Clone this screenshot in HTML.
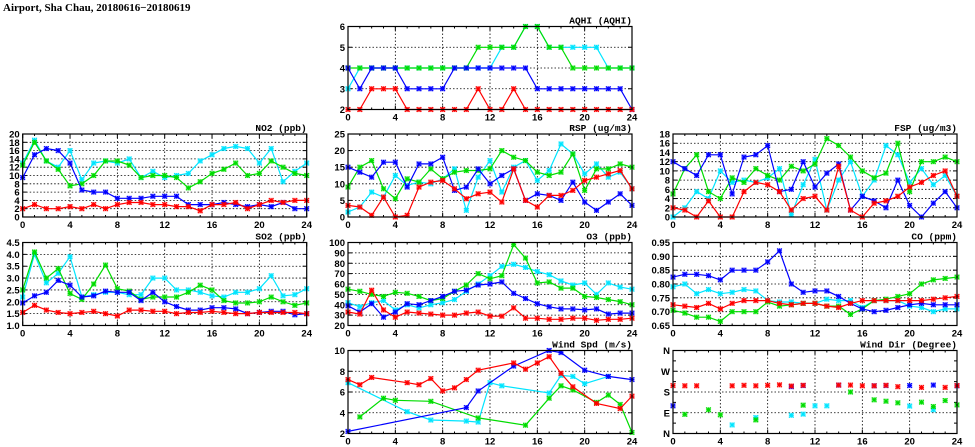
<!DOCTYPE html>
<html><head><meta charset="utf-8"><style>
html,body{margin:0;padding:0;background:#fff;width:975px;height:447px;overflow:hidden}
svg text{font-family:"Liberation Sans",sans-serif;font-weight:bold;fill:#000}
</style></head><body>
<svg id="s" width="975" height="447" viewBox="0 0 975 447" xmlns="http://www.w3.org/2000/svg">
<text x="3" y="11" font-size="11" style="font-family:'Liberation Serif',serif">Airport, Sha Chau, 20180616−20180619</text>
</svg>
<script>
var S=document.getElementById('s'),out='';
var C={r:'#ff0000',g:'#00dd00',c:'#00e5ff',b:'#0000ff'};
function arr(a){var o={};a.forEach(function(v,i){if(v!==null)o[i]=v});return o}
function panel(x0,y0,title,ymin,ymax,ticks,labels,series,scatter,minor){
 var w=284,h=83;
 function X(t){return x0+t/24*w}
 function Y(v){return y0+h-(v-ymin)/(ymax-ymin)*h}
 for(var t=4;t<24;t+=4)out+='<line x1="'+X(t)+'" x2="'+X(t)+'" y1="'+y0+'" y2="'+(y0+h)+'" stroke="#000" stroke-width="0.8" stroke-dasharray="1.5,2"/>';
 ticks.forEach(function(v,i){var y=Y(v);
  if(v>ymin&&v<ymax)out+='<line x1="'+x0+'" x2="'+(x0+w)+'" y1="'+y+'" y2="'+y+'" stroke="#000" stroke-width="0.8" stroke-dasharray="1.5,2"/>';
  out+='<text x="'+(x0-3)+'" y="'+(y+3.5)+'" font-size="9.5" text-anchor="end">'+labels[i]+'</text>';
  out+='<line x1="'+x0+'" x2="'+(x0+4)+'" y1="'+y+'" y2="'+y+'" stroke="#000"/><line x1="'+(x0+w-4)+'" x2="'+(x0+w)+'" y1="'+y+'" y2="'+y+'" stroke="#000"/>';
 });
 if(minor)minor.forEach(function(v){var y=Y(v);out+='<line x1="'+x0+'" x2="'+(x0+3)+'" y1="'+y+'" y2="'+y+'" stroke="#000"/><line x1="'+(x0+w-3)+'" x2="'+(x0+w)+'" y1="'+y+'" y2="'+y+'" stroke="#000"/>';});
 for(var t=0;t<=24;t+=1){var l=t%4==0?4:2;out+='<line x1="'+X(t)+'" x2="'+X(t)+'" y1="'+(y0+h)+'" y2="'+(y0+h-l)+'" stroke="#000"/><line x1="'+X(t)+'" x2="'+X(t)+'" y1="'+y0+'" y2="'+(y0+l)+'" stroke="#000"/>';
  if(t%4==0)out+='<text x="'+X(t)+'" y="'+(y0+h+11)+'" font-size="9.5" text-anchor="middle">'+t+'</text>';}
 out+='<text x="'+(x0+w)+'" y="'+(y0-3)+'" font-size="9.5" text-anchor="end" style="font-family:\'Liberation Mono\',monospace">'+title+'</text>';
 ['c','g','b','r'].forEach(function(k){var d=series[k];if(!d)return;var keys=Object.keys(d).map(Number).sort(function(a,b){return a-b});
  var pts=keys.map(function(t){return X(t).toFixed(1)+','+Y(d[t]).toFixed(1)}).join(' ');
  if(!scatter)out+='<polyline points="'+pts+'" fill="none" stroke="'+C[k]+'" stroke-width="1.2"/>';
  keys.forEach(function(t){var x=X(t),y=Y(d[t]),s=2.3;
   out+='<path d="M'+(x-s)+' '+(y-s)+'L'+(x+s)+' '+(y+s)+'M'+(x-s)+' '+(y+s)+'L'+(x+s)+' '+(y-s)+'M'+(x-s)+' '+y+'L'+(x+s)+' '+y+'M'+x+' '+(y-s)+'L'+x+' '+(y+s)+'" stroke="'+C[k]+'" stroke-width="1.1" fill="none"/>';
   out+='<rect x="'+(x-s)+'" y="'+(y-s)+'" width="'+2*s+'" height="'+2*s+'" fill="none" stroke="'+C[k]+'" stroke-width="0.5" opacity="0.5"/>';});
 });
 out+='<rect x="'+x0+'" y="'+y0+'" width="'+w+'" height="'+h+'" fill="none" stroke="#000" stroke-width="1.2"/>';
}
function rng(a,b,s){var r=[];for(var v=a;v<=b+1e-9;v+=s)r.push(+v.toFixed(3));return r}
var cx=[22.7,348,673],ry=[26.5,134,242.5,350.5];
var G=[4,4,4,4,4,4,4,4,4,4,4,5,5,5,5,6,6,5,5,4,4,4,4,4,4];
var Cy=G.slice();Cy[0]=3;Cy[11]=4;Cy[12]=4;Cy[19]=5;Cy[20]=5;Cy[21]=5;Cy[22]=4;
panel(cx[1],ry[0],'AQHI (AQHI)',2,6,[2,3,4,5,6],['2','3','4','5','6'],{
 c:arr(Cy),g:arr(G),
 b:arr([4,3,4,4,4,3,3,3,3,4,4,4,4,4,4,4,3,3,3,3,3,3,3,3,2]),
 r:arr([2,2,3,3,3,2,2,2,2,2,2,3,2,2,3,2,2,2,2,2,2,2,2,2,2])});
panel(cx[0],ry[1],'NO2 (ppb)',0,20,rng(0,20,2),rng(0,20,2).map(String),{
 c:arr([13,18.5,13.5,12,16,9,13,13.5,13,14,9.5,11,9.5,10,10.5,13.5,15,16.5,17,16.5,13,16.5,8.5,11,13]),
 g:arr([12.5,18,13.5,11.5,7.5,8,10,13.5,13.5,12.5,9.5,10,10,9.5,7,8.5,10.5,11.5,13,10,10.5,13.5,12,10.5,10]),
 b:arr([9.5,15,16.5,16,13,6.5,6,6,4.5,4.5,4.5,5,5,5,3,3,3,3.5,3,2.5,3,2.5,3.5,2,2]),
 r:arr([2,3,2,2,2.5,2,3,2,3,3.5,3.5,3,3,2.5,2.5,1.5,3,3,3.5,2,3,4,3.5,4,4])});
panel(cx[1],ry[1],'RSP (ug/m3)',0,25,rng(0,25,5),rng(0,25,5).map(String),{
 c:arr([1.5,3,7.5,6,12.5,9.5,10.5,10,11.5,14.5,2,12,17,7.5,15,17,11,14,22,19,13,16,12,13.5,8.5]),
 g:arr([9,15,17,8.5,5.5,11.5,10.5,14.5,11.5,13.5,14,14,14.5,20,18,17,13.5,12.5,13.5,19,8,14.5,14.5,16,15]),
 b:arr([15,13.5,12,16.5,16.5,9,16,16,18,8,9,14.5,10,12.5,14.5,5,7,6.5,5,10.5,4.5,2,4.5,7,3.5]),
 r:arr([3.5,3,0.5,6,0,0.5,9,10.5,11,8.5,5.5,7,7.5,4.5,14.5,5,3,6.5,6.5,8,11,12,13,14,8.5])});
panel(cx[2],ry[1],'FSP (ug/m3)',0,18,rng(0,18,2),rng(0,18,2).map(String),{
 c:arr([0,2,5.5,4,10,7.5,8,7.5,8.5,10.5,0.5,7,12.5,1.5,8,12,4.5,8,15.5,13.5,7.5,10.5,7,9,4.5]),
 g:arr([5,10.5,13.5,5.5,4,8.5,7.5,10.5,9,8,11,10,11.5,17,15.5,13,10,8.5,9.5,16,5.5,12,12,13,12]),
 b:arr([12,10.5,9,13.5,13.5,5,13,13.5,15.5,5.5,6,12,6.5,9.5,11.5,1.5,4.5,3.5,2,8,2.5,0,3,5.5,2]),
 r:arr([2,1.5,0,3.5,0,0,5.5,7.5,7,5.5,1.5,4,4.5,1.5,11,1.5,0,3,3.5,4.5,6.5,7.5,9,10,4.5])});
panel(cx[0],ry[2],'SO2 (ppb)',1,4.5,rng(1,4.5,0.5),rng(1,4.5,0.5).map(function(v){return v.toFixed(1)}),{
 c:arr([2.2,4.0,2.8,3.2,3.9,2.2,2.3,2.4,2.4,2.3,2.3,3.0,3.0,2.5,2.5,2.4,2.25,2.2,2.4,2.4,2.55,3.1,2.25,2.3,2.55]),
 g:arr([2.5,4.1,3.0,3.4,2.35,2.1,2.75,3.55,2.55,2.45,2.1,2.2,2.2,2.2,2.4,2.7,2.5,2.05,1.95,1.95,2.0,2.2,2.0,1.85,1.95]),
 b:arr([1.95,2.25,2.4,2.9,2.7,2.2,2.25,2.45,2.4,2.4,2.05,2.4,2.0,1.8,1.65,1.65,1.75,1.75,1.7,1.5,1.55,1.6,1.6,1.45,1.5]),
 r:arr([1.55,1.85,1.65,1.55,1.5,1.55,1.6,1.5,1.4,1.65,1.65,1.6,1.6,1.5,1.55,1.55,1.6,1.55,1.5,1.5,1.55,1.55,1.55,1.55,1.5])});
panel(cx[1],ry[2],'O3 (ppb)',20,100,rng(20,100,10),rng(20,100,10).map(String),{
 c:arr([42,38,42,44,35,40,37,40,42,45,53,60,68,77,79,76,72,69,63,59,61,50,61,57,55]),
 g:arr([55,53,50,48,52,51,48,44,46,53,59,70,65,68,98,85,61,62,56,56,48,47,45,43,40]),
 b:arr([39,33,41,28,33,41,40,44,48,53,54,59,60,62,51,46,41,38,36,36,35,36,31,32,32]),
 r:arr([33,31,54,35,28,33,32,31,30,30,32,33,29,29,37,27,27,26,26,27,27,25,26,26,27])});
panel(cx[2],ry[2],'CO (ppm)',0.65,0.95,rng(0.65,0.95,0.05),rng(0.65,0.95,0.05).map(function(v){return v.toFixed(2)}),{
 c:arr([.79,.80,.765,.78,.765,.77,.78,.775,.74,.735,.735,.73,.73,.745,.74,.74,.715,.74,.74,.74,.72,.715,.70,.71,.71]),
 g:arr([.705,.695,.68,.68,.665,.70,.70,.70,.735,.72,.725,.73,.73,.72,.72,.69,.71,.74,.745,.755,.765,.80,.815,.82,.825]),
 b:arr([.825,.835,.835,.83,.815,.85,.85,.85,.88,.92,.80,.77,.775,.775,.755,.73,.71,.70,.705,.715,.725,.73,.725,.725,.725]),
 r:arr([.725,.72,.715,.73,.71,.73,.74,.74,.74,.73,.725,.73,.73,.72,.715,.73,.74,.74,.74,.74,.74,.74,.745,.75,.755])});
panel(cx[1],ry[3],'Wind Spd (m/s)',2,10,[2,4,6,8,10],['2','4','6','8','10'],{
 c:{0:6.9,5:4.1,7:3.3,10:3.2,11:3.1,12:6.9,13:6.6,17:5.9,18:7.6,19:7.5,20:6.8,22:7.5},
 g:{1:3.6,3:5.4,4:5.2,7:5.1,11:3.5,15:2.8,17:5.4,18:6.6,19:6.2,21:5.0,22:5.7,23:4.8,24:2.1},
 b:{0:2.2,10:4.5,11:6.1,14:8.5,17:10,18:9.8,20:8.1,22:7.5,24:7.2},
 r:{0:7.2,1:6.7,2:7.4,5:6.9,6:6.7,7:7.3,8:6.1,9:6.4,10:7.2,11:8.1,14:8.8,15:8.2,16:8.8,17:9.4,18:7.8,19:6.5,21:4.9,23:4.4,24:5.6}});
panel(cx[2],ry[3],'Wind Dir (Degree)',0,360,[0,90,180,270,360],['N','E','S','W','N'],{
 c:{5:37,7:69,10:79,11:84,12:120,13:120,20:119,22:103},
 g:{1:83,3:103,4:81,7:59,11:123,15:180,17:146,18:140,19:133,21:136,22:117,23:143,24:124},
 b:{0:120,10:203,11:208,14:210,17:207,18:208,20:208,22:210,24:207},
 r:{0:208,1:207,2:207,5:207,6:209,7:207,8:209,9:211,10:206,11:209,14:210,15:210,16:207,17:207,18:209,19:203,21:200,23:200,24:208}},true,[45,135,225,315]);
S.insertAdjacentHTML('beforeend',out);
</script>
</body></html>
